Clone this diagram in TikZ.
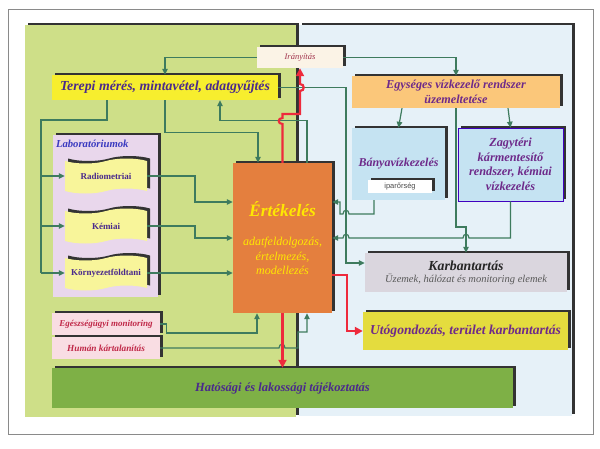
\documentclass[tikz,border=0pt]{standalone}
\usepackage{fontspec}
\setmainfont{Liberation Serif}
\newfontfamily\iparbetu{Liberation Sans}
\usetikzlibrary{shapes.symbols,shadows,arrows.meta}
\definecolor{zoldhatter}{HTML}{CEDF88}
\definecolor{kekhatter}{HTML}{E6F1F8}
\definecolor{vonal}{HTML}{3E7B5E}
\definecolor{keret}{HTML}{8A8A8A}
\definecolor{terepsarga}{HTML}{F7EE2E}
\definecolor{narancs}{HTML}{FBC77A}
\definecolor{lila}{HTML}{E9D7EC}
\definecolor{tekercssarga}{HTML}{F8F59A}
\definecolor{ertekszin}{HTML}{E47F3E}
\definecolor{vilagkek}{HTML}{C5E3F2}
\definecolor{szurke}{HTML}{DAD6DE}
\definecolor{utogsarga}{HTML}{E4DC3E}
\definecolor{rozsa}{HTML}{F9DDE3}
\definecolor{fuzold}{HTML}{7EB046}
\definecolor{piros}{HTML}{EE2A3C}
\definecolor{szoveg}{HTML}{4A2A8C}
\definecolor{bibor}{HTML}{6E2A8A}
\definecolor{iranyszin}{HTML}{A0304A}
\definecolor{egeszszin}{HTML}{C02848}
\definecolor{labszin}{HTML}{3A3AC0}
\definecolor{kreme}{HTML}{FBF3E6}
\begin{document}
\begin{tikzpicture}[x=1pt,y=-1pt,
  arnyek/.style={general shadow={fill=black!80, shadow xshift=3pt, shadow yshift=2.5pt}},
  box/.style={arnyek, inner sep=1pt, align=center, text=szoveg, font=\bfseries\itshape},
  tekercs/.style={tape, arnyek, fill=tekercssarga, minimum width=82pt, minimum height=35pt, inner sep=1pt,
    text=szoveg, font=\bfseries\fontsize{9}{10}\selectfont},
  line/.style={draw=vonal, line width=1.2pt},
  flow/.style={line, -{Triangle[length=6pt,width=5.5pt]}},
  pirosnyil/.style={draw=piros, line width=2.2pt, -{Triangle[length=8pt,width=8pt]}}]
\useasboundingbox (0,0) rectangle (600,448);
\fill[white] (0,0) rectangle (600,448);
\draw[keret, line width=0.8pt] (8,9) rectangle (593,434);
% the two background panels
\path[fill=kekhatter, arnyek] (299,25) rectangle (572,416);
\path[fill=zoldhatter, arnyek] (25,25) rectangle (296,417);

\node[box, fill=kreme, minimum width=86pt, minimum height=21pt, text=iranyszin,
  font=\itshape\fontsize{8.5}{9}\selectfont] (iranyitas) at (300,57.5) {Irányítás};
\node[box, fill=terepsarga, minimum width=226pt, minimum height=25pt,
  font=\bfseries\itshape\fontsize{13.8}{15}\selectfont] (terepi) at (165,87.5) {Terepi mérés, mintavétel, adatgyűjtés};
\node[box, fill=narancs, minimum width=208pt, minimum height=32pt, text=bibor,
  font=\bfseries\itshape\fontsize{12.2}{15}\selectfont] (egyseges) at (456,92) {Egységes vízkezelő rendszer\\üzemeltetése};

% laboratories
\node[box, fill=lila, minimum width=105pt, minimum height=162pt] (labor) at (105.5,216) {};
\node[anchor=north west, inner sep=1pt, text=labszin, font=\bfseries\itshape\fontsize{10.7}{12}\selectfont]
  (labcim) at ([shift={(2pt,-4pt)}]labor.north west) {Laboratóriumok};
\node[tekercs] (radio) at (106,176) {Radiometriai};
\node[tekercs] (kemiai) at (106,226) {Kémiai};
\node[tekercs] (kornyezet) at (106,273) {Környezetföldtani};

\node[box, fill=ertekszin, minimum width=99pt, minimum height=150pt, text=yellow!90!orange,
  font=\itshape\fontsize{12}{14.5}\selectfont] (ertekeles) at (282.5,238)
  {{\bfseries\fontsize{17.4}{18}\selectfont Értékelés}\\[15pt]adatfeldolgozás,\\értelmezés,\\modellezés};

\node[box, fill=vilagkek, minimum width=93pt, minimum height=72pt, text=bibor,
  font=\bfseries\itshape\fontsize{12}{12}\selectfont] (banya) at (398.5,164) {Bányavízkezelés};
\node[box, fill=white, minimum width=64pt, minimum height=13pt, text=black!70,
  font=\iparbetu\fontsize{7.5}{8}\selectfont] (ipar) at (400,186.5) {iparőrség};
\node[box, fill=vilagkek, draw=blue!50!violet, line width=0.6pt, minimum width=105pt, minimum height=73pt,
  text=bibor, font=\bfseries\itshape\fontsize{12.3}{14.5}\selectfont] (zagy) at (510.5,164.5)
  {Zagytéri\\kármentesítő\\rendszer, kémiai\\vízkezelés};
\node[box, fill=szurke, minimum width=202pt, minimum height=39pt, text=black!85,
  font=\itshape\fontsize{10.5}{12}\selectfont] (karb) at (466,272.5)
  {{\bfseries\fontsize{13.8}{15}\selectfont Karbantartás}\\[0pt]{\color{black!65}Üzemek, hálózat és monitoring elemek}};
\node[box, fill=utogsarga, minimum width=205pt, minimum height=38pt, text=bibor,
  font=\bfseries\itshape\fontsize{13.6}{15}\selectfont] (utog) at (465.5,331) {Utógondozás, terület karbantartás};

\node[box, fill=rozsa, minimum width=108pt, minimum height=22pt, text=egeszszin,
  font=\bfseries\itshape\fontsize{9}{10}\selectfont] (egesz) at (106,324) {Egészségügyi monitoring};
\node[box, fill=rozsa, minimum width=108pt, minimum height=22pt, text=egeszszin,
  font=\bfseries\itshape\fontsize{9.3}{10}\selectfont] (human) at (106,348) {Humán kártalanítás};
\node[box, fill=fuzold, minimum width=461pt, minimum height=40pt,
  font=\bfseries\itshape\fontsize{12.5}{14}\selectfont] (hatosagi) at (282.5,388) {Hatósági és lakossági tájékoztatás};

% green connectors
\draw[flow] (iranyitas.west) -| (terepi.north);
\draw[flow] (iranyitas.east) -| (egyseges.north);
\coordinate (torzs) at (41,120);
\draw[line] ([xshift=-58pt]terepi.south) |- (torzs) -- (torzs |- kornyezet.west);
\foreach \n in {radio,kemiai,kornyezet} % feeds of the labs
  \draw[flow] (torzs |- \n.west) -- (\n.west);
\draw[flow] (terepi.south) -- ++(0,32) -| ([xshift=-24.5pt]ertekeles.north);
\draw[flow] ([xshift=24.5pt]ertekeles.north) -- ++(0,-42) -| ([xshift=55pt]terepi.south);
\draw[flow] (terepi.east) -| (346,263) -- (karb.west |- 0,263);
\draw[flow] ([xshift=-54pt]egyseges.south) -- (banya.north);
\draw[flow] ([xshift=52pt]egyseges.south) -- (zagy.north);
\draw[flow] (egyseges.south) -- (456,227) -| (karb.north);
\draw[flow] ([xshift=-24.5pt]banya.south) |- (349,214) .. controls (349,209) and (343,209) .. (343,214)
  -- (340,214) |- ([yshift=36pt]ertekeles.east);
\draw[flow] (zagy.south) |- (469,238) .. controls (469,233) and (463,233) .. (463,238)
  -- (349,238) .. controls (349,233) and (343,233) .. (343,238) -- (ertekeles.east);
\draw[flow] (radio.east) -| (195,202) -- ([yshift=36pt]ertekeles.west);
\draw[flow] (kemiai.east) -| (195,238) -- (ertekeles.west);
\draw[flow] (kornyezet.east) -- (ertekeles.west |- kornyezet.east);
\draw[flow] (egesz.east) -- ++(6,0) -- ++(0,9) -| ([xshift=-25.5pt]ertekeles.south);
\draw[flow] (human.east) -- (279,348) .. controls (279,343) and (285,343) .. (285,348)
  -- (298,348) -- (298,332) -| ([xshift=24.5pt]ertekeles.south);

% red arrows
\draw[pirosnyil] (ertekeles.north) -- (282.5,124) .. controls (277.5,124) and (277.5,118) .. (282.5,118)
  -- (282.5,114) -- (300,114) -- (300,91) .. controls (305,91) and (305,84) .. (300,84) -- (iranyitas.south);
\draw[pirosnyil] (ertekeles.south) -- (hatosagi.north);
\draw[pirosnyil] ([yshift=-37pt]ertekeles.east) -| (347,331) -- (utog.west);
\end{tikzpicture}
\end{document}
